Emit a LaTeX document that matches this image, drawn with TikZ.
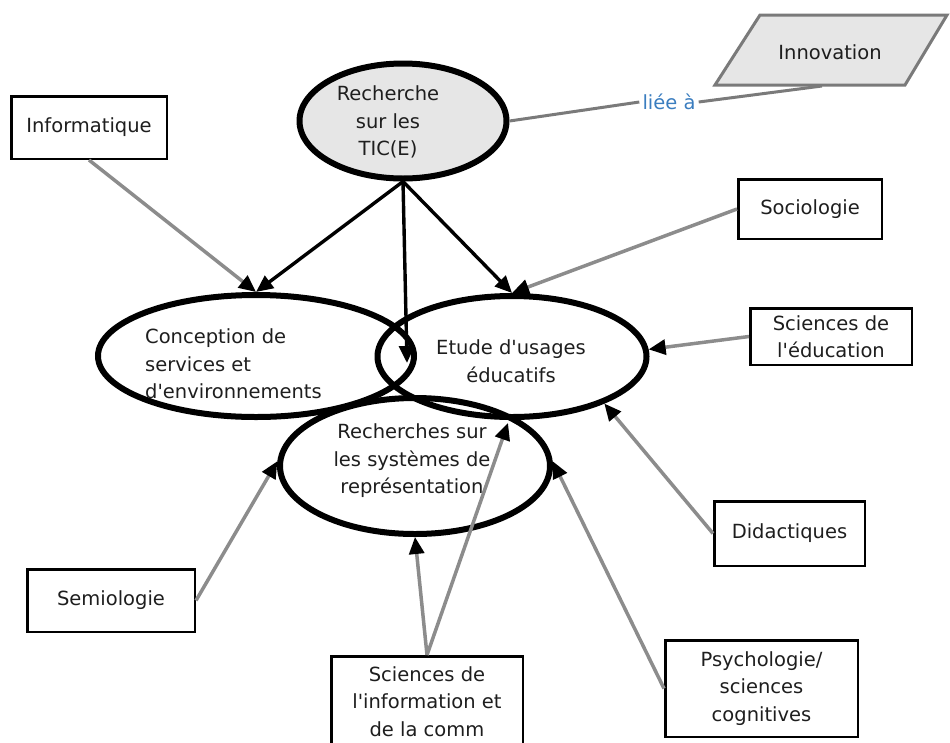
\documentclass[tikz,border=0pt]{standalone}
\usepackage{fontspec}
\setmainfont{DejaVu Sans}
\usetikzlibrary{shapes.geometric,arrows.meta}
\definecolor{txt}{HTML}{1E1E1E}
\definecolor{lgray}{HTML}{E6E6E6}
\definecolor{lnk}{HTML}{8C8C8C}
\definecolor{pborder}{HTML}{7A7A7A}
\definecolor{bluelbl}{HTML}{3A7DBF}
\newcommand{\apo}{\textquotesingle}
\begin{document}
\begin{tikzpicture}[x=1pt,y=-1pt,
  font=\fontsize{19.5}{27.5}\selectfont, text=txt,
  oval/.style={ellipse, draw=black, line width=6pt, inner sep=0pt},
  lbl/.style={align=center, inner sep=0pt},
  box/.style={draw=black, line width=2.5pt, align=center, inner sep=0pt, fill=white},
  blackarr/.style={draw=black, line width=3.4pt, -{Triangle[length=17pt,width=15pt]}},
  grayarr/.style={draw=lnk, line width=3.5pt, -{Triangle[length=17pt,width=15pt,color=black]}},
  link/.style={draw=pborder, line width=3pt}
]
\useasboundingbox (0,0) rectangle (950,742);

% Innovation parallelogram
\path[draw=pborder, fill=lgray, line width=3pt, line join=miter]
  (715,85) -- (905,85) -- (947,15) -- (760,15) -- cycle;
\node[lbl] (innov) at (830,52) {Innovation};
\coordinate (innovB) at (822,86);

% ellipses
\node[oval, fill=lgray, minimum width=207pt, minimum height=115pt] (rech) at (403,121) {};
\node[lbl] (rechT) at (388,122) {Recherche\\sur les\\TIC(E)};

\node[oval, minimum width=316pt, minimum height=122pt] (conc) at (256,356) {};
\node[oval, minimum width=269pt, minimum height=121pt] (etude) at (512,356.5) {};
\node[oval, minimum width=270pt, minimum height=136pt] (rsys) at (415,466) {};

\node[lbl, align=left, anchor=west] (concT) at (145,364) {Conception de\\services et\\d\apo environnements};
\node[lbl] (etudeT) at (511,361) {Etude d\apo usages\\éducatifs};
\node[lbl] (rsysT) at (412,461) {Recherches sur\\les systèmes de\\représentation};

% boxes
\node[box, minimum width=155.5pt, minimum height=62.5pt] (info) at (89,127.5) {Informatique};
\node[box, minimum width=143.5pt, minimum height=59.5pt] (soc) at (810,209) {Sociologie};
\node[box, minimum width=161.5pt, minimum height=56.5pt] (sced) at (831,336.5) {Sciences de\\l\apo éducation};
\node[box, minimum width=150.5pt, minimum height=64.5pt] (did) at (789.5,533.5) {Didactiques};
\node[box, minimum width=192.5pt, minimum height=96.5pt] (psy) at (761.5,688.5) {Psychologie/\\sciences\\cognitives};
\node[box, minimum width=191.5pt, minimum height=90.5pt] (sinf) at (427,701.5) {Sciences de\\l\apo information et\\de la comm};
\node[box, minimum width=167.5pt, minimum height=62.5pt] (sem) at (111,600.5) {Semiologie};

% liée à
\node[inner sep=3pt, text=bluelbl] (liee) at (669,102) {liée à};
\draw[link] (rech.east) -- (liee.west);
\draw[link] (liee.east) -- (innovB);

% black arrows
\coordinate (midtip) at (407,363);
\draw[blackarr] (rech.south) -- (conc.north);
\draw[blackarr] (rech.south) -- (etude.north);
\draw[blackarr] (rech.south) -- (midtip);

% gray arrows
\coordinate (sinftip) at (508,423);
\draw[grayarr] (info.south) -- (conc.north);
\draw[grayarr] (soc.west) -- (etude.north);
\draw[grayarr] (sced.west) -- (etude.3);
\draw[grayarr] (did.west) -- (etude.-27);
\draw[grayarr] (psy.west) -- (rsys.2);
\draw[grayarr] (sem.east) -- (rsys.178);
\draw[grayarr] (sinf.north) -- (rsys.south);
\draw[grayarr] (sinf.north) -- (sinftip);
\end{tikzpicture}
\end{document}
